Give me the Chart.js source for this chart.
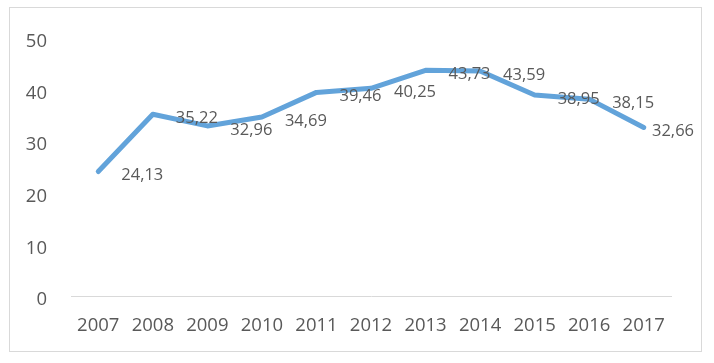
<!DOCTYPE html>
<html>
<head>
<meta charset="utf-8">
<script src="https://cdn.jsdelivr.net/npm/chart.js@4/dist/chart.umd.min.js"></script>
<style>
  html, body { margin: 0; padding: 0; background: #fff; }
  #marco { position: absolute; left: 9px; top: 7px; width: 693px; height: 345px; border: 1px solid #d9d9d9; box-sizing: border-box; }
  #lienzo { position: absolute; left: 0; top: 0; }
</style>
</head>
<body>
<div id="marco"></div>
<canvas id="lienzo" width="714" height="363"></canvas>
<script>
// --- DATOS DEL GRÁFICO ---
const anios = ['2007', '2008', '2009', '2010', '2011', '2012', '2013', '2014', '2015', '2016', '2017'];
const valores = [24.13, 35.22, 32.96, 34.69, 39.46, 40.25, 43.73, 43.59, 38.95, 38.15, 32.66];
const ticksY = [0, 10, 20, 30, 40, 50];

const colorTexto = '#595959';
const fuente = "'Open Sans', 'Liberation Sans', sans-serif";

// etiquetas de datos a la derecha de cada punto, con coma decimal
const etiquetasDatos = {
    id: 'etiquetasDatos',
    afterDatasetsDraw(chart) {
        const ctx = chart.ctx;
        const meta = chart.getDatasetMeta(0);
        ctx.save();
        ctx.font = '16.5px ' + fuente;
        ctx.fillStyle = colorTexto;
        ctx.textAlign = 'left';
        ctx.textBaseline = 'middle';
        meta.data.forEach((pt, i) => {
            const texto = valores[i].toFixed(2).replace('.', ',');
            const ancho = ctx.measureText(texto).width;
            let x = pt.x + 23;
            if (x + ancho > 694) x = 694 - ancho;
            ctx.fillText(texto, x, pt.y + 4);
        });
        ctx.restore();
    }
};

new Chart(document.getElementById('lienzo').getContext('2d'), {
    type: 'line',
    data: {
        labels: anios,
        datasets: [{
            data: valores,
            borderColor: '#62a3da',
            borderWidth: 5,
            borderCapStyle: 'round',
            borderJoinStyle: 'round',
            pointRadius: 0,
            tension: 0,
            fill: false
        }]
    },
    options: {
        responsive: false,
        animation: false,
        layout: { padding: { left: 0, right: 43, top: 38, bottom: 0 } },
        plugins: { legend: { display: false }, tooltip: { enabled: false } },
        scales: {
            x: {
                offset: true,
                grid: { display: false, drawTicks: false },
                border: { display: true, color: '#d9d9d9', width: 1 },
                ticks: { color: colorTexto, font: { family: fuente, size: 18.5 }, padding: 19, maxRotation: 0 },
                afterFit(scale) { scale.height = 67; }
            },
            y: {
                min: 0,
                max: 50,
                afterBuildTicks(scale) { scale.ticks = ticksY.map(v => ({ value: v })); },
                grid: { display: false, drawTicks: false },
                border: { display: false },
                ticks: { color: colorTexto, font: { family: fuente, size: 18.5 }, padding: 24, labelOffset: 4 },
                afterFit(scale) { scale.width = 71; }
            }
        }
    },
    plugins: [etiquetasDatos]
});
</script>
</body>
</html>
